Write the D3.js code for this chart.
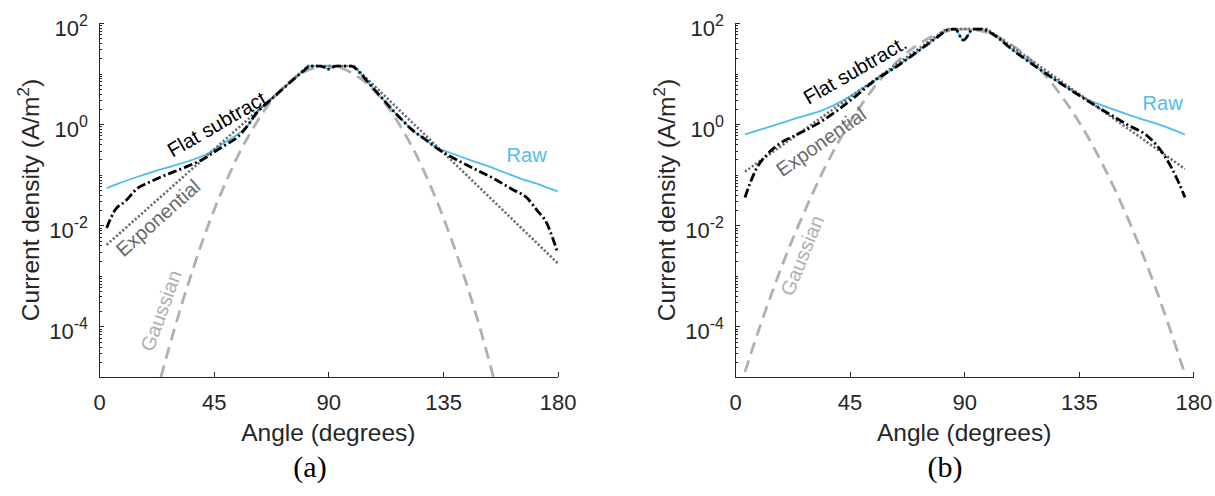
<!DOCTYPE html>
<html>
<head>
<meta charset="utf-8">
<script src="https://cdn.jsdelivr.net/npm/d3@7"></script>
<style>
  body { margin: 0; background: #fff; }
  svg { display: block; }
</style>
</head>
<body>
<svg id="fig" width="1215" height="496"></svg>
<script>
// Angular distribution of current density, two runs (a) and (b).
// Points are [angle in degrees, current density in A/m^2].

const angleTicks = [0, 45, 90, 135, 180];
const densityTicks = [1e2, 1e0, 1e-2, 1e-4];

// ---- run (a) ----
const rawA = [[3,0.054],[8,0.068],[14,0.087],[22,0.118],[30,0.155],[37,0.20],[42,0.25],[47,0.363],[52,0.525],
  [58,0.89],[62,1.70],[66,2.63],[70,3.98],[76,7.41],[80,11.0],[83,14.1],[87,14.1],[90,12.3],[93,14.1],[99,14.1],
  [103,9.5],[106.4,6.0],[111,3.3],[115.4,1.86],[119,1.20],[123,0.76],[128,0.50],[132.5,0.336],
  [136.4,0.288],[145.6,0.195],[154.7,0.135],[165.2,0.085],[173.1,0.063],[180,0.047]];

const flatA = [[3,0.0089],[6.3,0.020],[10.2,0.0295],[15.3,0.055],[19.2,0.069],[24,0.089],[28.5,0.110],
  [33,0.135],[37.7,0.170],[42,0.219],[45.5,0.288],[50,0.398],[54.5,0.562],[58,0.89],[62,1.70],[66,2.63],
  [70,3.98],[76,7.41],[80,11.0],[83,14.1],[87,14.1],[90,12.3],[93,14.1],[99,14.1],[103,9.5],[106.4,6.0],
  [111,3.3],[115.4,1.86],[119,1.20],[123,0.76],[128,0.50],[132.5,0.336],[138,0.229],[144.3,0.155],[149.5,0.115],
  [154.7,0.085],[162.6,0.050],[167.9,0.035],[171.8,0.020],[175.7,0.011],[178.3,0.0051],[180,0.0028]];

const expA = [[3,0.0041],[82,14.1],[100,14.1],[180,0.00178]];

const gaussA = [[24.3,1e-5],[30,1.05e-4],[35,6.9e-4],[40,3.98e-3],[45,0.0191],[50,0.0759],[55,0.263],
  [60,0.759],[65,1.905],[70,3.98],[75,6.92],[80,10.5],[85,13.2],[90,14.1],[95,12.9],[100,9.77],[105,6.46],
  [110,3.55],[115,1.66],[120,0.646],[125,0.219],[130,0.0617],[135,0.0148],[140,3.02e-3],[145,5.25e-4],
  [150,7.59e-5],[154.8,1e-5]];

// ---- run (b) ----
const rawB = [[3.9,0.63],[13.7,0.89],[24.2,1.32],[34.7,1.91],[42.5,2.95],[50.4,5.25],[55.6,7.76],
  [63.5,13.8],[71.3,26.3],[80.5,57.5],[83.1,72.4],[86.4,75.9],[89.7,45.7],[93.5,75.9],[97,75.9],
  [99.5,67.6],[110,26.9],[119.2,12.6],[132.3,4.57],[138.8,3.02],[145.3,2.24],[158.4,1.32],[168.9,0.89],
  [176.7,0.62]];

const flatB = [[3.9,0.0355],[5.9,0.0676],[8.5,0.135],[12.4,0.245],[17.7,0.417],[24.2,0.617],[32.1,1.0],
  [39.9,1.82],[47.8,3.72],[55.6,7.76],[63.5,13.8],[71.3,26.3],[80.5,57.5],[83.1,72.4],[86.4,75.9],
  [89.7,45.7],[93.5,75.9],[97,75.9],[99.5,67.6],[110,26.9],[119.2,12.6],[132.3,4.57],[138.8,2.82],
  [145.3,1.78],[154.4,0.955],[162.3,0.562],[167.5,0.288],[171.5,0.135],[174.1,0.0724],[176.7,0.0355]];

const expB = [[3.9,0.115],[83,75.9],[99,75.9],[176.7,0.130]];

const gaussB = [[3.9,1.26e-5],[10,1.07e-4],[15,5.37e-4],[20,2.51e-3],[25,0.0102],[30,0.038],[35,0.129],
  [40,0.389],[45,1.05],[50,2.57],[55,5.62],[60,11.2],[65,20.0],[70,32.4],[75,46.8],[80,61.7],[85,72.4],
  [90,75.9],[95,72.4],[100,61.7],[105,47.9],[110,33.1],[115,20.9],[120,11.7],[125,5.89],[130,2.69],
  [135,1.12],[140,0.417],[145,0.138],[150,0.0417],[155,0.0112],[160,2.75e-3],[165,6.03e-4],[170,1.17e-4],
  [176.4,1.26e-5]];

// ---- styling ----
const SANS = "'Liberation Sans', Arial, Helvetica, sans-serif";
const SERIF = "'Liberation Serif', 'Times New Roman', serif";
const INK = "#262626";
const C_RAW = "#4dbeee";
const C_EXP = "#6e6e6e";
const C_GAUSS = "#b0b0b0";

const yTop = 23, yBot = 377;

const panels = [
  {
    id: "a", x0: 99, x1: 557.7, captionX: 310,
    raw: rawA, flat: flatA, expo: expA, gauss: gaussA,
    notes: [
      { text: "Flat subtract.", at: [47.1, 1.06], angle: -30, color: "#000", anchor: "middle", base: "central" },
      { text: "Exponential", at: [23.2, 0.014], angle: -41.5, color: "#6a6a6a", anchor: "middle", base: "central" },
      { text: "Gaussian", at: [24.3, 2.05e-4], angle: -70, color: C_GAUSS, anchor: "middle", base: "central" },
      { text: "Raw", at: [167.8, 0.179], angle: 0, color: C_RAW, anchor: "middle", base: "alphabetic" }
    ]
  },
  {
    id: "b", x0: 735, x1: 1193.4, captionX: 945,
    raw: rawB, flat: flatB, expo: expB, gauss: gaussB,
    notes: [
      { text: "Flat subtract.", at: [47.1, 11.7], angle: -30, color: "#000", anchor: "middle", base: "central" },
      { text: "Exponential", at: [33.8, 0.447], angle: -35, color: "#6a6a6a", anchor: "middle", base: "central" },
      { text: "Gaussian", at: [26.3, 2.54e-3], angle: -68, color: C_GAUSS, anchor: "middle", base: "central" },
      { text: "Raw", at: [167.9, 1.91], angle: 0, color: C_RAW, anchor: "middle", base: "alphabetic" }
    ]
  }
];

const svg = d3.select("#fig");

// minor tick positions on the log axis: k * 10^e
const minorTicks = [];
for (let e = -5; e <= 1; e++) {
  for (let k = 1; k <= 9; k++) {
    const v = k * Math.pow(10, e);
    if (v <= 100 && !densityTicks.some(t => Math.abs(t - v) / t < 1e-9)) minorTicks.push(v);
  }
}

panels.forEach(p => {
  const x = d3.scaleLinear().domain([0, 180]).range([p.x0, p.x1]);
  const y = d3.scaleLog().domain([1e-5, 1e2]).range([yBot, yTop]);

  const g = svg.append("g").attr("class", "panel-" + p.id);

  g.append("clipPath").attr("id", "clip-" + p.id)
    .append("rect").attr("x", p.x0).attr("y", yTop - 4)
    .attr("width", p.x1 - p.x0 + 2).attr("height", yBot - yTop + 4);

  const line = d3.line().x(d => x(d[0])).y(d => y(d[1]));
  const smooth = d3.line().x(d => x(d[0])).y(d => y(d[1])).curve(d3.curveMonotoneX);

  const plot = g.append("g").attr("clip-path", `url(#clip-${p.id})`);

  plot.append("path").datum(p.raw).attr("d", smooth)
    .attr("fill", "none").attr("stroke", C_RAW).attr("stroke-width", 1.8);

  plot.append("path").datum(p.gauss).attr("d", smooth)
    .attr("fill", "none").attr("stroke", C_GAUSS).attr("stroke-width", 2.8)
    .attr("stroke-dasharray", "12,7");

  plot.append("path").datum(p.expo).attr("d", line)
    .attr("fill", "none").attr("stroke", C_EXP).attr("stroke-width", 2.6)
    .attr("stroke-dasharray", "2.2,2");

  plot.append("path").datum(p.flat).attr("d", smooth)
    .attr("fill", "none").attr("stroke", "#000").attr("stroke-width", 2.8)
    .attr("stroke-dasharray", "9,3,2,3");

  // axes
  const xAxis = g.append("g").attr("transform", `translate(0,${yBot})`)
    .call(d3.axisBottom(x).tickValues(angleTicks).tickSize(-5).tickSizeOuter(0).tickPadding(17));
  xAxis.selectAll("text").attr("font-family", SANS).attr("font-size", 22).attr("fill", INK);

  const yAxis = g.append("g").attr("transform", `translate(${p.x0},0)`)
    .call(d3.axisLeft(y).tickValues(densityTicks).tickSize(-5).tickSizeOuter(0).tickFormat(() => ""));
  g.append("g").attr("transform", `translate(${p.x0},0)`)
    .call(d3.axisLeft(y).tickValues(minorTicks).tickSize(-2.5).tickFormat(() => ""))
    .call(s => s.select(".domain").remove());

  g.selectAll(".domain, .tick line").attr("stroke", INK).attr("shape-rendering", "crispEdges");

  // power-of-ten labels
  yAxis.selectAll(".tick text").each(function(v) {
    const t = d3.select(this).text(null)
      .attr("x", -11).attr("dy", null).attr("y", 12)
      .attr("font-family", SANS).attr("font-size", 22).attr("fill", INK)
      .attr("text-anchor", "end");
    t.append("tspan").text("10");
    t.append("tspan").attr("dy", -10).attr("font-size", 16).text(Math.round(Math.log10(v)));
  });

  // axis titles
  g.append("text")
    .attr("x", (p.x0 + p.x1) / 2).attr("y", 441)
    .attr("text-anchor", "middle").attr("font-family", SANS).attr("font-size", 24.5).attr("fill", INK)
    .text("Angle (degrees)");

  const yl = g.append("text")
    .attr("transform", `translate(${p.x0 - 60},${(yTop + yBot) / 2}) rotate(-90)`)
    .attr("text-anchor", "middle").attr("font-family", SANS).attr("font-size", 24.5).attr("fill", INK);
  yl.append("tspan").text("Current density (A/m");
  yl.append("tspan").attr("dy", -10).attr("font-size", 17).text("2");
  yl.append("tspan").attr("dy", 10).text(")");

  // caption
  g.append("text")
    .attr("x", p.captionX).attr("y", 477)
    .attr("text-anchor", "middle").attr("font-family", SERIF).attr("font-size", 30).attr("fill", "#000")
    .text(`(${p.id})`);

  // curve annotations
  p.notes.forEach(n => {
    g.append("text")
      .attr("transform", `translate(${x(n.at[0])},${y(n.at[1])}) rotate(${n.angle})`)
      .attr("text-anchor", n.anchor).attr("dominant-baseline", n.base)
      .attr("font-family", SANS).attr("font-size", 20).attr("fill", n.color)
      .text(n.text);
  });
});
</script>
</body>
</html>
